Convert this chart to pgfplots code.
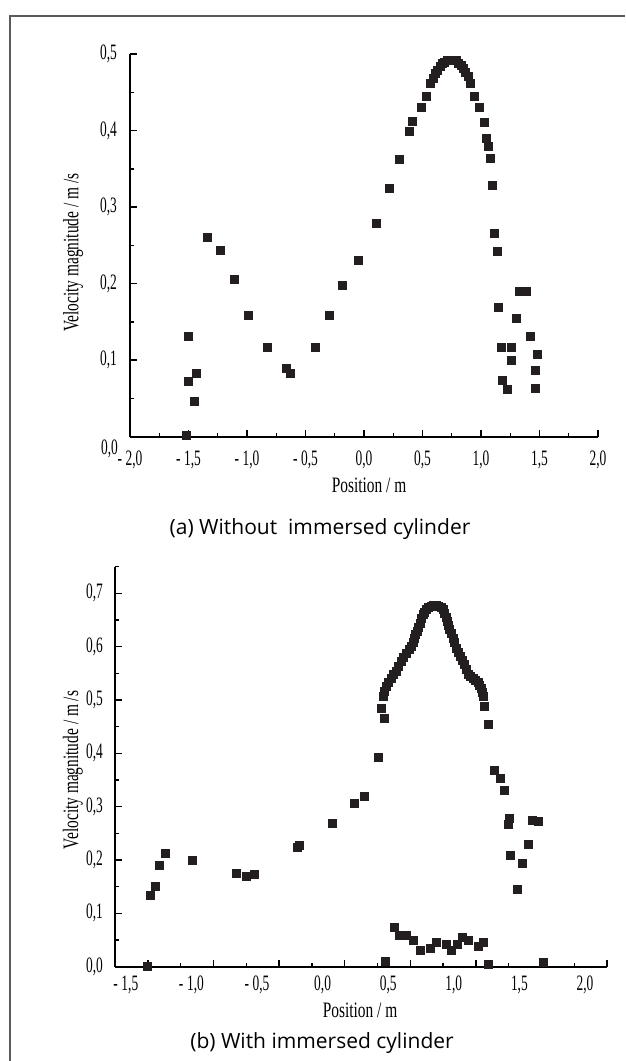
\documentclass[border=0pt]{standalone}
\usepackage{fontspec}
\setmainfont{Liberation Serif}
\newfontfamily\tickfont[FakeStretch=0.61]{Liberation Serif}
\newfontfamily\labfont[FakeStretch=0.70]{Liberation Serif}
\newfontfamily\capfont{Open Sans}
\usepackage{pgfplots}
\pgfplotsset{compat=1.18}
\definecolor{markblack}{HTML}{231F20}
\definecolor{framegray}{HTML}{5A5A5A}

\pgfplotsset{
  velaxis/.style={
    scale only axis,
    axis lines=left,
    axis line style={-, black, line width=2.3pt},
    tick align=inside,
    major tick length=7pt,
    minor tick length=4pt,
    tick style={black, line width=1.4pt},
    ticklabel style={font=\tickfont\fontsize{22}{22}\selectfont},
    yticklabel style={anchor=center, xshift=-21.5pt},
    xlabel={Position / m},
    ylabel={Velocity magnitude / m /s},
    xlabel style={font=\labfont\fontsize{22}{22}\selectfont, anchor=center},
    ylabel style={font=\labfont\fontsize{22}{22}\selectfont, anchor=center},
    clip=false,
  },
  velmarks/.style={only marks, mark=square*, mark size=4pt,
    mark options={draw=markblack, fill=markblack, line width=0pt}},
}

\begin{document}
\begin{tikzpicture}
\useasboundingbox (0,0) rectangle (625pt,1061pt);
\draw[framegray, line width=2pt] (10pt,0pt) -- (10pt,1045pt) -- (625pt,1045pt);

% (a) without immersed cylinder
\begin{axis}[
  velaxis,
  at={(130pt,624.3pt)}, anchor=south west,
  width=468pt, height=382.7pt,
  xmin=-2, xmax=2, ymin=0, ymax=0.5,
  xtick={-2,-1.5,-1,-0.5,0,0.5,1,1.5,2},
  xticklabels={{-\,2,0},{-\,1,5},{-\,1,0},{-\,0,5},{0,0},{0,5},{1,0},{1,5},{2,0}},
  xticklabel style={anchor=center, yshift=-23.5pt},
  minor xtick={-1.75,-1.25,-0.75,-0.25,0.25,0.75,1.25,1.75},
  ytick={0.1,0.2,0.3,0.4,0.5},
  yticklabels={{0,1},{0,2},{0,3},{0,4},{0,5}},
  extra y ticks={0},
  extra y tick labels={0{,}0},
  extra y tick style={major tick length=0pt,
    yticklabel style={anchor=center, xshift=1pt, yshift=-12pt}},
  minor ytick={0.05,0.15,0.25,0.35,0.45},
  xlabel style={at={(axis description cs:0.5107,-0.1262)}},
  ylabel style={at={(axis description cs:-0.1218,0.481)}},
]
\addplot[velmarks] coordinates {
  (-1.50,0.131) (-1.50,0.072) (-1.43,0.083) (-1.45,0.046) (-1.52,0.001)
  (-1.34,0.260) (-1.225,0.243) (-1.105,0.205) (-0.99,0.158) (-0.826,0.116)
  (-0.664,0.089) (-0.627,0.083) (-0.413,0.116) (-0.293,0.158) (-0.185,0.197)
  (-0.051,0.230) (0.108,0.279) (0.222,0.324) (0.305,0.362) (0.385,0.399)
  (0.413,0.412) (0.49,0.4295) (0.533,0.445) (0.57,0.461) (0.59,0.468)
  (0.61,0.474) (0.63,0.479) (0.65,0.484) (0.67,0.487) (0.69,0.489)
  (0.71,0.491) (0.73,0.492) (0.75,0.492) (0.77,0.492) (0.79,0.491)
  (0.81,0.488) (0.83,0.485) (0.85,0.481) (0.87,0.476) (0.89,0.470)
  (0.91,0.462) (0.946,0.445) (0.989,0.4295) (1.028,0.410) (1.049,0.3895)
  (1.066,0.3795) (1.077,0.3635) (1.097,0.3277) (1.117,0.266) (1.145,0.2415)
  (1.151,0.169) (1.33,0.190) (1.39,0.190) (1.305,0.155) (1.419,0.1315)
  (1.174,0.116) (1.262,0.116) (1.262,0.099) (1.487,0.107) (1.462,0.086)
  (1.18,0.074) (1.225,0.062) (1.467,0.063)
};
\end{axis}

% (b) with immersed cylinder
\begin{axis}[
  velaxis,
  at={(115pt,94.3pt)}, anchor=south west,
  width=492pt, height=400pt,
  xmin=-1.75, xmax=2, ymin=0, ymax=0.75,
  xtick={-1.5,-1,-0.5,0,0.5,1,1.5,2},
  xticklabels={{-\,1,5},{-\,1,0},{-\,0,5},{0,0},{0,5},{1,0},{1,5},{2,0}},
  xticklabel style={anchor=center, xshift=-22pt, yshift=-18.5pt},
  minor xtick={-1.25,-0.75,-0.25,0.25,0.75,1.25,1.75},
  ytick={0,0.1,0.2,0.3,0.4,0.5,0.6,0.7},
  yticklabels={{0,0},{0,1},{0,2},{0,3},{0,4},{0,5},{0,6},{0,7}},
  minor ytick={0.05,0.15,0.25,0.35,0.45,0.55,0.65,0.75},
  yticklabel style={xshift=1pt},
  xlabel style={at={(axis description cs:0.498,-0.108)}},
  ylabel style={at={(axis description cs:-0.0854,0.492)}},
]
\addplot[velmarks] coordinates {
  (-1.50,0.0) (-1.479,0.1326) (-1.439,0.150) (-1.414,0.1895) (-1.363,0.2127)
  (-1.16,0.200) (-0.824,0.175) (-0.748,0.169) (-0.684,0.173) (-0.362,0.224)
  (-0.341,0.228) (-0.095,0.269) (0.078,0.3066) (0.154,0.320) (0.255,0.393)
  (0.281,0.485) (0.301,0.466)
  (0.294,0.507) (0.305,0.516) (0.319,0.525) (0.337,0.533) (0.357,0.541)
  (0.376,0.547) (0.395,0.554) (0.414,0.563) (0.433,0.572) (0.452,0.580)
  (0.472,0.588) (0.491,0.594) (0.510,0.600) (0.523,0.608) (0.535,0.616)
  (0.544,0.622) (0.553,0.629) (0.566,0.636) (0.578,0.644) (0.589,0.652)
  (0.599,0.660) (0.611,0.665) (0.624,0.669) (0.643,0.673) (0.662,0.676)
  (0.681,0.677) (0.700,0.677) (0.719,0.676) (0.738,0.674) (0.751,0.669)
  (0.764,0.663) (0.773,0.655) (0.781,0.647) (0.792,0.640) (0.802,0.632)
  (0.815,0.624) (0.827,0.616) (0.840,0.607) (0.853,0.597) (0.868,0.590)
  (0.883,0.582) (0.900,0.574) (0.916,0.566) (0.929,0.557) (0.942,0.547)
  (0.961,0.544) (0.980,0.541) (0.999,0.536) (1.018,0.532) (1.031,0.527)
  (1.043,0.522) (1.052,0.515) (1.061,0.507) (1.069,0.488) (1.094,0.455)
  (1.145,0.3677) (1.19,0.352) (1.221,0.330) (1.259,0.278) (1.252,0.266)
  (1.429,0.275) (1.475,0.272) (1.404,0.2296) (1.264,0.2077) (1.356,0.1927)
  (1.315,0.144)
  (0.377,0.0739) (0.42,0.0576) (0.472,0.0576) (0.522,0.0488) (0.578,0.0313)
  (0.655,0.0332) (0.70,0.045) (0.777,0.0407) (0.815,0.030) (0.857,0.0407)
  (0.899,0.055) (0.941,0.050) (1.018,0.0388) (1.056,0.0458)
  (0.314,0.010) (1.094,0.005) (1.513,0.008)
};
\end{axis}

\node[font=\capfont\fontsize{21}{21}\selectfont] at (320pt,532.4pt) {(a) Without\ \ immersed cylinder};
\node[font=\capfont\fontsize{21}{21}\selectfont] at (322pt,18pt) {(b) With immersed cylinder};
\end{tikzpicture}
\end{document}
